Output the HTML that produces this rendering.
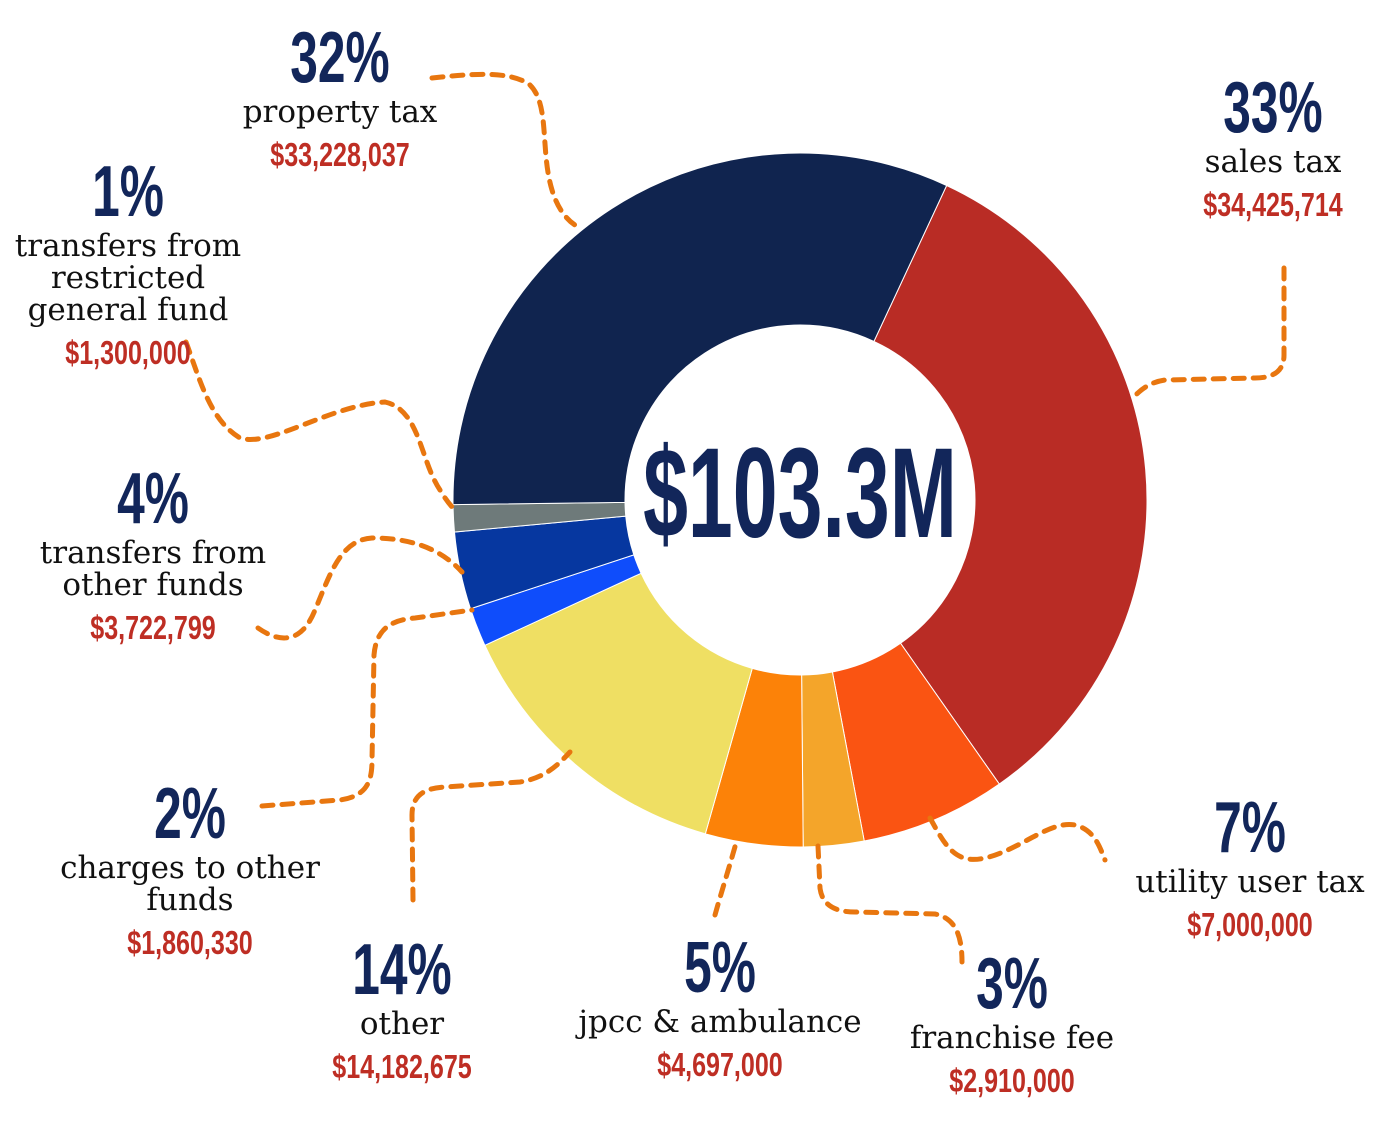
<!DOCTYPE html>
<html><head><meta charset="utf-8"><style>
html,body{margin:0;padding:0;background:#fff;}
svg{display:block;}
.pct{font-family:"Liberation Sans",sans-serif;font-weight:bold;fill:#12265a;font-size:72px;}
.lbl{font-family:"DejaVu Serif","Liberation Serif",serif;fill:#111;font-size:31px;}
.amt{font-family:"Liberation Sans",sans-serif;font-weight:bold;fill:#be2e24;font-size:33px;}
.lead{fill:none;stroke:#e8760f;stroke-width:5;stroke-dasharray:11 9;stroke-linecap:round;}
</style></head><body>
<svg id="chart" width="1390" height="1133" viewBox="0 0 1390 1133">
<g id="slices"></g>
<g>
<path class="lead" d="M432,78 C470,74 510,70 530,85 C550,105 540,150 552,190 C558,210 568,222 580,228"/>
<path class="lead" d="M1284,268 L1284,355 C1284,372 1272,378 1255,378 L1165,380 C1150,382 1140,390 1133,398"/>
<path class="lead" d="M186,342 C200,380 210,420 240,438 C270,448 330,405 385,402 C420,410 420,460 440,490 C446,500 450,505 455,510"/>
<path class="lead" d="M258,628 C275,640 300,648 315,610 C330,575 340,540 372,538 C410,538 440,548 462,572"/>
<path class="lead" d="M262,806 L340,800 C368,796 372,780 372,760 L374,655 C376,630 390,620 415,618 L472,610"/>
<path class="lead" d="M413,900 L412,815 C412,795 425,788 445,787 L520,782 C545,778 558,765 570,752"/>
<path class="lead" d="M715,915 C722,890 730,865 736,843"/>
<path class="lead" d="M818,846 L820,888 C822,905 835,912 855,912 L935,914 C955,918 962,935 962,962"/>
<path class="lead" d="M930,818 C945,845 955,865 985,858 C1020,850 1050,820 1075,825 C1095,830 1100,848 1105,860"/>
</g>
<g id="labels"></g>
<text x="800" y="537" text-anchor="middle" font-family="Liberation Sans, sans-serif" font-weight="bold" font-size="128" fill="#12265a" transform="translate(800 0) scale(0.63 1) translate(-800 0)">$103.3M</text>
</svg>
<script>
const categories=["sales tax","utility user tax","franchise fee","jpcc & ambulance","other","charges to other funds","transfers from other funds","transfers from restricted general fund","property tax"];
const values=[34425714,7000000,2910000,4697000,14182675,1860330,3722799,1300000,33228037];
const percents=["33%","7%","3%","5%","14%","2%","4%","1%","32%"];
const amounts=["$34,425,714","$7,000,000","$2,910,000","$4,697,000","$14,182,675","$1,860,330","$3,722,799","$1,300,000","$33,228,037"];
const colors=["#b92c25","#fa5412","#f4a52a","#fc8208","#efdf63","#0f4dfb","#0637a0","#6e7a7a","#10244f"];
const labelLines=[["sales tax"],["utility user tax"],["franchise fee"],["jpcc & ambulance"],["other"],["charges to other","funds"],["transfers from","other funds"],["transfers from","restricted","general fund"],["property tax"]];
const anchors=[[1273,132],[1250,852],[1012,1008],[720,992],[402,994],[190,838],[153,523],[128,216],[340,82]];
const NS="http://www.w3.org/2000/svg";
const cx=800,cy=500,R=347,r=175,start=25;
const total=values.reduce((a,b)=>a+b,0);
function pt(a,rad){const t=(a-90)*Math.PI/180;return [cx+rad*Math.cos(t),cy+rad*Math.sin(t)];}
const sg=document.getElementById('slices');
let a0=start;
values.forEach((v,i)=>{
 const a1=a0+v/total*360;const large=(a1-a0)>180?1:0;
 const p1=pt(a0,R),p2=pt(a1,R),p3=pt(a1,r),p4=pt(a0,r);
 const p=document.createElementNS(NS,'path');
 p.setAttribute('d',`M${p1[0]},${p1[1]} A${R},${R} 0 ${large} 1 ${p2[0]},${p2[1]} L${p3[0]},${p3[1]} A${r},${r} 0 ${large} 0 ${p4[0]},${p4[1]} Z`);
 p.setAttribute('fill',colors[i]);p.setAttribute('stroke','#fff');p.setAttribute('stroke-width','1');
 
 
 sg.appendChild(p);a0=a1;
});
const lg=document.getElementById('labels');
function txt(cls,x,y,s,sx,name){const t=document.createElementNS(NS,'text');t.setAttribute('class',cls);t.setAttribute('x',x);t.setAttribute('y',y);t.setAttribute('text-anchor','middle');
 if(sx!==1)t.setAttribute('transform',`translate(${x} 0) scale(${sx} 1) translate(${-x} 0)`);t.textContent=s;
 
 
 lg.appendChild(t);}
categories.forEach((c,i)=>{
 const [x,y]=anchors[i];const slug=c.replace(/[^a-z]+/g,'-');
 txt('pct',x,y,percents[i],0.69,'percent-'+slug);
 let yy=y+40;
 labelLines[i].forEach(l=>{txt('lbl',x,yy,l,1,'label-'+slug);yy+=32;});
 txt('amt',x,yy+12,amounts[i],0.76,'amount-'+slug);
});
</script>
</body></html>
